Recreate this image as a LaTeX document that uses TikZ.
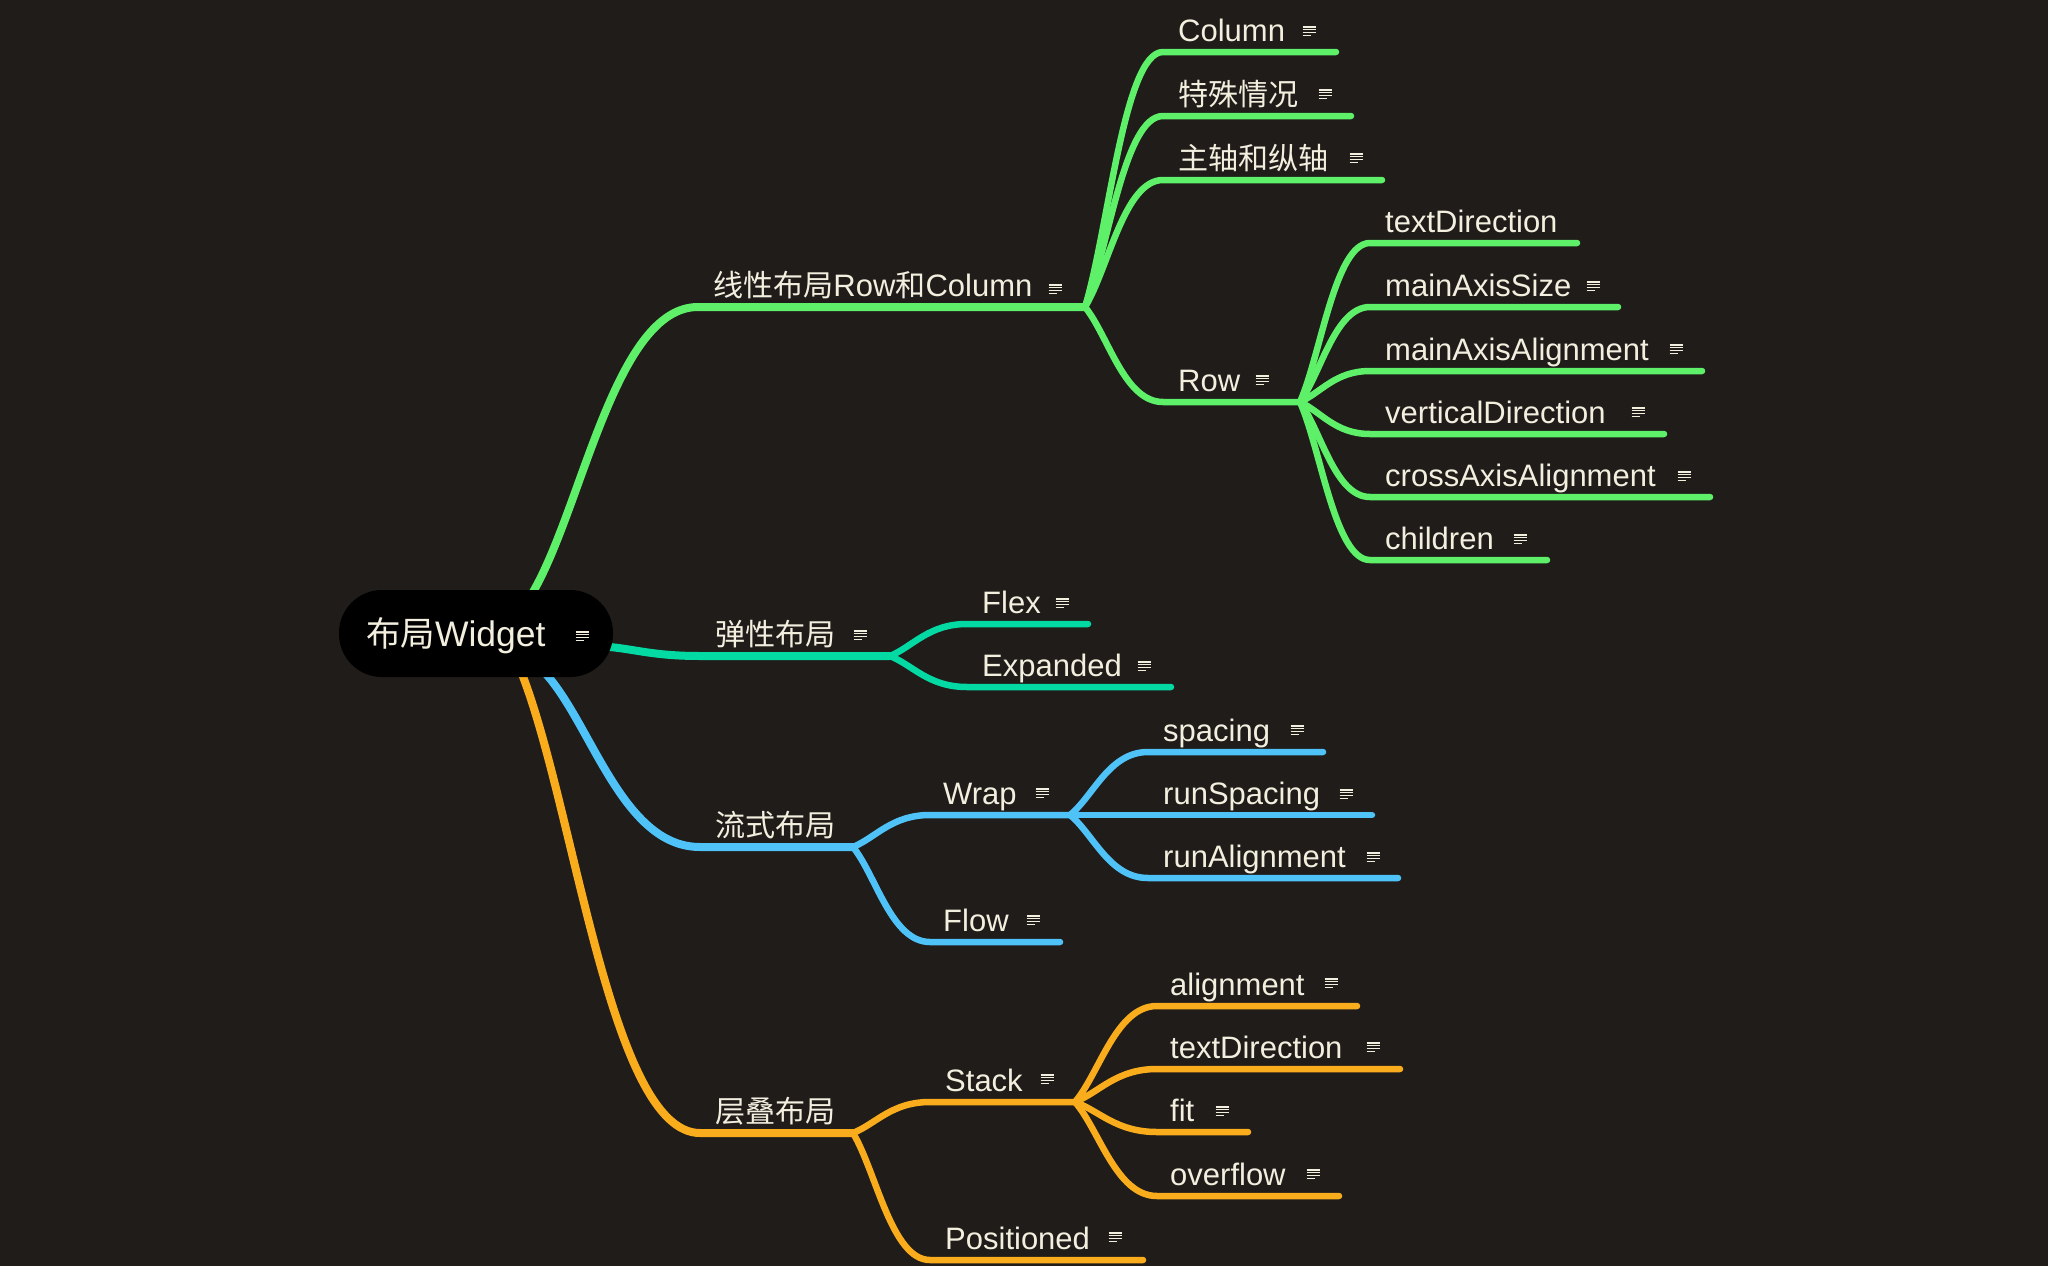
\documentclass[tikz,border=0pt]{standalone}
\usepackage{fontspec}
\setmainfont{Liberation Sans}
\newfontfamily\cjk{Noto Sans CJK SC}[Scale=0.97]
\usetikzlibrary{calc}
\definecolor{bgc}{HTML}{1F1C1A}
\definecolor{gc}{HTML}{5FF06A}
\definecolor{tc}{HTML}{03D9A3}
\definecolor{bc}{HTML}{4FC3F7}
\definecolor{oc}{HTML}{FAAD1C}
\definecolor{txc}{HTML}{F3EFDF}
% edge from a branch point #2 to topic #3 (start #3s, end #3e)
\newcommand{\mmedge}[3]{\draw[#1] (#2) .. controls ($(#2)!0.3!(#3s)$) and ($(#3s)!0.5!(#2 |- #3s)$) .. (#3s) -- (#3e);}
% topic: name, text x, line start x, line end x, line y, text
\newcommand{\topic}[6]{%
  \coordinate (#1s) at (#3,#5);
  \coordinate (#1e) at (#4,#5);
  \node[lbl] (#1) at (#2,#5-11) {#6};}
\tikzset{
  lbl/.style={anchor=base west, inner sep=0pt, text=txc, font=\fontsize{31}{36}\selectfont},
  mainw/.style={line width=8pt, line cap=round, line join=round},
  subw/.style={line width=6.5pt, line cap=round, line join=round},
  gmain/.style={mainw, draw=gc}, gsub/.style={subw, draw=gc},
  tmain/.style={mainw, draw=tc}, tsub/.style={subw, draw=tc},
  bmain/.style={mainw, draw=bc}, bsub/.style={subw, draw=bc},
  omain/.style={mainw, draw=oc}, osub/.style={subw, draw=oc},
  rootbox/.style={fill=black, rounded corners=43pt, minimum width=274pt, minimum height=87pt, inner sep=0pt},
  note/.pic={\draw[draw=txc, line width=1.4pt]
     (-6.5,-4.2) -- (6.5,-4.2) (-6.5,-1.4) -- (6.5,-1.4)
     (-6.5,1.4) -- (6.5,1.4) (-6.5,4.2) -- (1.5,4.2);}
}
\begin{document}
\begin{tikzpicture}[x=1pt, y=-1pt]
\fill[bgc] (0,0) rectangle (2048,1266);
\useasboundingbox (0,0) rectangle (2048,1266);

% start points at the root
\coordinate (gS) at (533,592);
\coordinate (tS) at (610,647);
\coordinate (bS) at (546,674);
\coordinate (oS) at (522,674);

% level 1
\topic{L}{713}{698}{1085}{307}{{\cjk 线性布局}Row{\cjk 和}Column}
\topic{T}{715}{700}{890}{656}{{\cjk 弹性布局}}
\topic{F}{715}{700}{853}{847}{{\cjk 流式布局}}
\topic{S}{715}{700}{853}{1133}{{\cjk 层叠布局}}
% under L
\topic{Col}{1178}{1163}{1336}{52}{Column}
\topic{Tsqk}{1178}{1163}{1351}{116}{{\cjk 特殊情况}}
\topic{Zz}{1178}{1163}{1382}{180}{{\cjk 主轴和纵轴}}
\topic{Row}{1178}{1163}{1300}{402}{Row}
% under Row
\topic{Rtd}{1385}{1370}{1577}{243}{textDirection}
\topic{Mas}{1385}{1370}{1618}{307}{mainAxisSize}
\topic{Maa}{1385}{1370}{1702}{371}{mainAxisAlignment}
\topic{Vd}{1385}{1370}{1664}{434}{verticalDirection}
\topic{Caa}{1385}{1370}{1710}{497}{crossAxisAlignment}
\topic{Ch}{1385}{1370}{1547}{560}{children}
% under T
\topic{Flex}{982}{967}{1088}{624}{Flex}
\topic{Exp}{982}{967}{1171}{687}{Expanded}
% under F
\topic{Wrap}{943}{930}{1070}{815}{Wrap}
\topic{Flow}{943}{930}{1060}{942}{Flow}
% under Wrap
\topic{Sp}{1163}{1148}{1323}{752}{spacing}
\topic{Rs}{1163}{1148}{1372}{815}{runSpacing}
\topic{Ra}{1163}{1148}{1398}{878}{runAlignment}
% under S
\topic{Stack}{945}{930}{1075}{1102}{Stack}
\topic{Pos}{945}{930}{1143}{1260}{Positioned}
% under Stack
\topic{Al}{1170}{1157}{1357}{1006}{alignment}
\topic{Std}{1170}{1157}{1400}{1069}{textDirection}
\topic{Fit}{1170}{1157}{1248}{1132}{fit}
\topic{Ov}{1170}{1157}{1339}{1196}{overflow}

% connectors
\mmedge{gmain}{gS}{L}
\mmedge{tmain}{tS}{T}
\mmedge{bmain}{bS}{F}
\mmedge{omain}{oS}{S}

\mmedge{gsub}{Le}{Col}
\mmedge{gsub}{Le}{Tsqk}
\mmedge{gsub}{Le}{Zz}
\mmedge{gsub}{Le}{Row}
\mmedge{gsub}{Rowe}{Rtd}
\mmedge{gsub}{Rowe}{Mas}
\mmedge{gsub}{Rowe}{Maa}
\mmedge{gsub}{Rowe}{Vd}
\mmedge{gsub}{Rowe}{Caa}
\mmedge{gsub}{Rowe}{Ch}

\mmedge{tsub}{Te}{Flex}
\mmedge{tsub}{Te}{Exp}

\mmedge{bsub}{Fe}{Wrap}
\mmedge{bsub}{Fe}{Flow}
\mmedge{bsub}{Wrape}{Sp}
\mmedge{bsub}{Wrape}{Rs}
\mmedge{bsub}{Wrape}{Ra}

\mmedge{osub}{Se}{Stack}
\mmedge{osub}{Se}{Pos}
\mmedge{osub}{Stacke}{Al}
\mmedge{osub}{Stacke}{Std}
\mmedge{osub}{Stacke}{Fit}
\mmedge{osub}{Stacke}{Ov}

% root
\node[rootbox] (root) at (476,633.5) {};
\node[lbl, font=\fontsize{35.5}{40}\selectfont] (rootlbl) at (366,646) {{\cjk 布局}Widget};

% note icons
\foreach \p in {(582,636),(1055,289),(860,635),(1309,31),(1325,94),(1356,158),(1262,380),
  (1593,286),(1676,349),(1638,412),(1684,476),(1520,539),(1062,603),(1144,666),
  (1042,793),(1033,920),(1297,730),(1346,794),(1373,857),(1047,1079),(1115,1237),
  (1331,983),(1373,1047),(1222,1111),(1313,1174)}
  \pic at \p {note};
\end{tikzpicture}
\end{document}
